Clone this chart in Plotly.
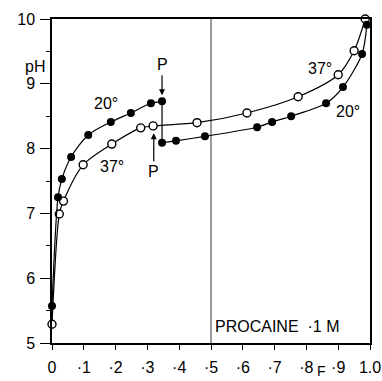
import plotly.graph_objects as go

# 20 deg (filled) - upper branch before P, lower branch after P
F_20_up = [0.0, 0.019, 0.031, 0.06, 0.114, 0.185, 0.248, 0.311, 0.346]
pH_20_up = [5.57, 7.25, 7.53, 7.87, 8.21, 8.41, 8.55, 8.70, 8.73]
F_20_low = [0.346, 0.39, 0.481, 0.645, 0.692, 0.752, 0.862, 0.915, 0.975, 0.99]
pH_20_low = [8.09, 8.12, 8.19, 8.33, 8.41, 8.50, 8.70, 8.95, 9.46, 9.91]

# 37 deg (open)
F_37 = [0.0, 0.023, 0.036, 0.098, 0.188, 0.279, 0.318, 0.456, 0.613, 0.774, 0.90, 0.95, 0.985]
pH_37 = [5.29, 6.99, 7.19, 7.75, 8.07, 8.32, 8.35, 8.40, 8.55, 8.80, 9.14, 9.51, 10.0]

x_ticks = [0.0, 0.1, 0.2, 0.3, 0.4, 0.5, 0.6, 0.7, 0.8, 0.9, 1.0]
x_tick_labels = ["0", "·1", "·2", "·3", "·4", "·5", "·6", "·7", "·8", "·9", "1.0"]
y_ticks = [5, 6, 7, 8, 9, 10]
ref_line_F = 0.5

FONT = "Liberation Sans"
fig = go.Figure()

fig.add_trace(go.Scatter(x=F_37, y=pH_37, mode="lines+markers", line=dict(color="black", width=1.2, shape="spline", smoothing=0.8),
                         marker=dict(symbol="circle", size=8, color="white", line=dict(color="black", width=1.4)), cliponaxis=False))
fig.add_trace(go.Scatter(x=F_20_up, y=pH_20_up, mode="lines+markers", line=dict(color="black", width=1.2, shape="spline", smoothing=0.8),
                         marker=dict(symbol="circle", size=8, color="black"), cliponaxis=False))
fig.add_trace(go.Scatter(x=F_20_low, y=pH_20_low, mode="lines+markers", line=dict(color="black", width=1.2, shape="spline", smoothing=0.8),
                         marker=dict(symbol="circle", size=8, color="black"), cliponaxis=False))
fig.add_trace(go.Scatter(x=[F_20_up[-1], F_20_low[0]], y=[pH_20_up[-1], pH_20_low[0]], mode="lines",
                         line=dict(color="black", width=1.2), cliponaxis=False))

fig.add_shape(type="line", x0=ref_line_F, x1=ref_line_F, y0=5, y1=10, xref="x", yref="y", line=dict(color="black", width=0.8))

ann_font = dict(family=FONT, size=16, color="black")
anns = [
    dict(x=0.17, y=8.70, text="20°"),
    dict(x=0.19, y=7.73, text="37°"),
    dict(x=0.843, y=9.23, text="37°"),
    dict(x=0.93, y=8.58, text="20°"),
]
for a in anns:
    fig.add_annotation(x=a["x"], y=a["y"], text=a["text"], showarrow=False, font=ann_font)

fig.add_annotation(x=F_20_up[-1], y=pH_20_up[-1], ax=0, ay=-26, text="P", showarrow=True, arrowhead=2, arrowsize=1,
                   arrowwidth=1.2, arrowcolor="black", standoff=6, font=ann_font, yanchor="bottom")
fig.add_annotation(x=0.32, y=8.30, ax=0, ay=32, text="P", showarrow=True, arrowhead=2, arrowsize=1,
                   arrowwidth=1.2, arrowcolor="black", standoff=4, font=ann_font, yanchor="top")
fig.add_annotation(x=0.506, y=5.25, text="PROCAINE  ·1 M", showarrow=False, xanchor="left", font=ann_font)
fig.add_annotation(xref="paper", yref="paper", x=-0.09, y=0.885, text="pH", showarrow=False, font=ann_font)
fig.add_annotation(x=0.846, xref="x", yref="paper", y=-0.117, yanchor="bottom", text="F", showarrow=False,
                   font=dict(family=FONT, size=14, color="black"))

fig.update_layout(
    width=382, height=381, margin=dict(l=52, r=12, t=19, b=38, autoexpand=False),
    plot_bgcolor="white", paper_bgcolor="white", showlegend=False,
    font=dict(family=FONT, size=16, color="black"),
)
fig.update_xaxes(range=[0, 1.0], tickvals=x_ticks, ticktext=x_tick_labels, showgrid=False, zeroline=False,
                 showline=True, linecolor="black", linewidth=1.5, mirror=True, ticks="outside", ticklen=5,
                 tickcolor="black", tickfont=dict(family=FONT, size=16), ticklabelstandoff=4, automargin=False)
fig.update_yaxes(range=[5, 10], tickvals=y_ticks, showgrid=False, zeroline=False,
                 showline=True, linecolor="black", linewidth=1.5, mirror=True, ticks="outside", ticklen=10,
                 tickcolor="black", tickfont=dict(family=FONT, size=16), ticklabelstandoff=2, automargin=False,
                 minor=dict(tickvals=[5.5, 6.5, 7.5, 8.5, 9.5], ticks="outside", ticklen=4, tickcolor="black"))

fig.write_html("out.html")
